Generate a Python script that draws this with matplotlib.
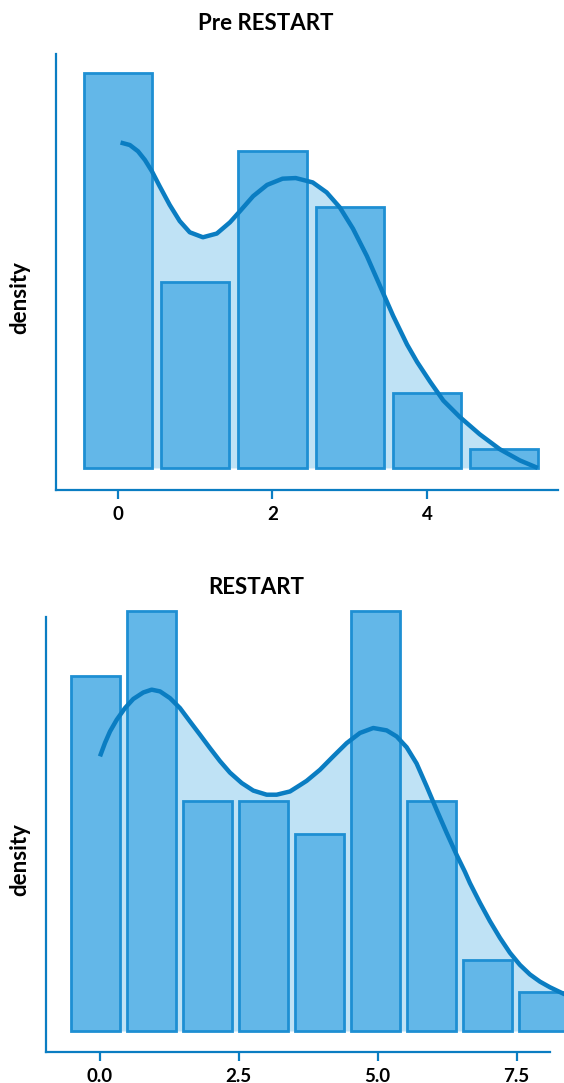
import matplotlib
matplotlib.use("Agg")
import matplotlib.pyplot as plt

plt.rcParams['font.family'] = ['Lato', 'DejaVu Sans']

# Pre RESTART: histogram (density) and KDE
pre_bins = [0, 1, 2, 3, 4, 5]
pre_density = [0.317, 0.149, 0.254, 0.209, 0.060, 0.015]
pre_kde_x = [0.035, 0.155, 0.26, 0.35, 0.44, 0.54, 0.67, 0.80, 0.93, 1.10, 1.28,
             1.45, 1.58, 1.75, 1.93, 2.13, 2.30, 2.52, 2.70, 2.87, 3.04, 3.22,
             3.39, 3.56, 3.74, 3.87, 4.04, 4.21, 4.42, 4.68, 4.94, 5.20, 5.43]
pre_kde_y = [0.261, 0.259, 0.254, 0.247, 0.238, 0.226, 0.211, 0.198, 0.189,
             0.185, 0.188, 0.197, 0.206, 0.218, 0.227, 0.232, 0.2325, 0.229,
             0.221, 0.209, 0.192, 0.170, 0.146, 0.122, 0.099, 0.085, 0.069,
             0.054, 0.041, 0.027, 0.015, 0.006, 0.0]
pre_ticks = [0, 2, 4]
pre_ticklabels = ['0', '2', '4']

# RESTART
post_bins = [-0.075, 0.932, 1.939, 2.946, 3.953, 4.960, 5.967, 6.974, 7.981]
post_density = [0.164, 0.194, 0.106, 0.106, 0.091, 0.194, 0.106, 0.033, 0.018]
post_kde_x = [0.005, 0.095, 0.185, 0.306, 0.455, 0.604, 0.784, 0.935, 1.085,
              1.264, 1.444, 1.624, 1.804, 1.984, 2.164, 2.343, 2.554, 2.763,
              3.004, 3.183, 3.423, 3.602, 3.723, 3.962, 4.201, 4.442, 4.681,
              4.921, 5.162, 5.342, 5.522, 5.701, 5.881, 6.061, 6.241, 6.421,
              6.570, 6.660, 6.840, 7.020, 7.200, 7.380, 7.560, 7.740, 7.919,
              8.099, 8.351, 8.600]
post_kde_y = [0.1268, 0.1330, 0.1383, 0.1437, 0.1491, 0.1533, 0.1563, 0.1576,
              0.1568, 0.1537, 0.1491, 0.1429, 0.1368, 0.1306, 0.1246, 0.1193,
              0.1145, 0.1110, 0.1091, 0.1091, 0.1106, 0.1135, 0.1155, 0.1206,
              0.1268, 0.1329, 0.1376, 0.1399, 0.1388, 0.1360, 0.1310, 0.1235,
              0.1130, 0.1021, 0.0915, 0.0813, 0.0735, 0.0683, 0.0592, 0.0507,
              0.0430, 0.0361, 0.0305, 0.0261, 0.0228, 0.0202, 0.0171, 0.0150]
post_ticks = [0.0, 2.5, 5.0, 7.5]
post_ticklabels = ['0.0', '2.5', '5.0', '7.5']

BAR = '#63b7e8'
EDGE = '#1e8fd3'
LINE = '#0a7dc2'
FILL = '#bfe2f5'

W, H = 564, 1083
fig = plt.figure(figsize=(W / 100, H / 100), dpi=100)


def make_axes(left, right, top, bottom):
    return fig.add_axes([left / W, 1 - bottom / H, (right - left) / W, (bottom - top) / H])


def draw(ax, bins, dens, kx, ky, ticks, labels, xlim, ylim, xb, yb):
    ax.fill_between(kx, 0, ky, color=FILL, lw=0, zorder=1)
    ax.bar(bins, dens, width=0.88, color=BAR, edgecolor=EDGE, linewidth=2, zorder=2)
    ax.plot(kx, ky, color=LINE, lw=3.2, solid_capstyle='butt',
            solid_joinstyle='round', zorder=3)
    ax.set_xlim(*xlim)
    ax.set_ylim(*ylim)
    for s in ['top', 'right']:
        ax.spines[s].set_visible(False)
    for s in ['left', 'bottom']:
        ax.spines[s].set_color(LINE)
        ax.spines[s].set_linewidth(1.6)
    ax.spines['bottom'].set_bounds(*xb)
    ax.spines['left'].set_bounds(*yb)
    ax.set_yticks([])
    ax.set_xticks(ticks)
    ax.set_xticklabels(labels, fontsize=13.5, fontweight='bold')
    ax.tick_params(axis='x', color=LINE, width=1.6, length=6.5, pad=5)
    ax.patch.set_visible(False)


ax1 = make_axes(56, 564, 54, 490)
draw(ax1, pre_bins, pre_density, pre_kde_x, pre_kde_y, pre_ticks, pre_ticklabels,
     (-0.80, 5.77), (-0.0177, 0.332), (-0.80, 5.69), (-0.0177, 0.332))

ax2 = make_axes(46, 600, 600, 1052)
draw(ax2, post_bins, post_density, post_kde_x, post_kde_y, post_ticks, post_ticklabels,
     (-0.966, 9.0), (-0.0097, 0.199), (-0.966, 8.10), (-0.0097, 0.1913))

fig.text(266 / W, 1 - 24 / H, 'Pre RESTART', ha='center', va='center',
         fontsize=16, fontweight='bold')
fig.text(256 / W, 1 - 587 / H, 'RESTART', ha='center', va='center',
         fontsize=16, fontweight='bold')
fig.text(20 / W, 1 - 298 / H, 'density', ha='center', va='center', rotation=90,
         fontsize=16, fontweight='bold')
fig.text(20 / W, 1 - 860 / H, 'density', ha='center', va='center', rotation=90,
         fontsize=16, fontweight='bold')

fig.savefig('out.png', dpi=100)
